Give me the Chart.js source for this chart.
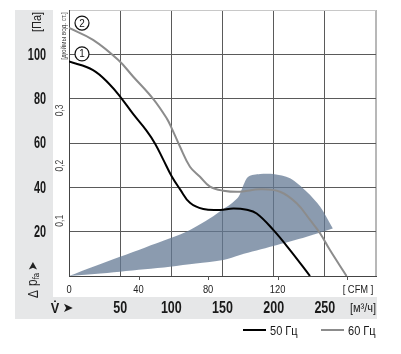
<!DOCTYPE html>
<html>
<head>
<meta charset="utf-8">
<script src="https://cdn.jsdelivr.net/npm/chart.js@4.4.1/dist/chart.umd.min.js"></script>
<style>
  html, body { margin: 0; padding: 0; background: #fff; }
  #wrap { width: 401px; height: 354px; position: relative; }
</style>
</head>
<body>
<div id="wrap"><canvas id="c" width="401" height="354"></canvas></div>
<script>
// ---- data ----
const flowTicks = [50, 100, 150, 200, 250];          // m³/h labels
const paTicks = [20, 40, 60, 80, 100];               // Pa labels
const cfmTicks = [0, 40, 80, 120];                   // CFM labels
const inH2OTicks = [0.1, 0.2, 0.3];                  // inch water labels
const inH2OLabels = ['0,1', '0,2', '0,3'];
const CFM_TO_M3H = 1.699;
const INH2O_TO_PA = 249.09;

const curve50X = [0, 23.5, 40, 50.5, 62.8, 75.9, 84, 92.1, 100.3, 108.4, 118.2, 131.2, 147.6, 160.6, 173.7, 183.4, 199.6, 216, 235.5];
const curve50Y = [96.8, 92.9, 86.3, 80.6, 73.0, 65.5, 59.8, 52.5, 45.0, 39.2, 33, 30.2, 29.8, 30.5, 29.9, 28.2, 20.8, 11.7, 0];

const curve60X = [0, 23.5, 48.2, 62.8, 82.4, 95.5, 100.4, 108.5, 118.2, 128, 137.8, 150.8, 167.1, 186.7, 206.2, 222.5, 235.5, 245.3, 255, 271.2];
const curve60Y = [111.9, 106.5, 97.4, 89.9, 79.8, 71.1, 66.6, 58.3, 49.3, 44.8, 40.3, 38.5, 38, 39.1, 38, 32.8, 25.3, 19.3, 11.7, 0];

// operating range polygon: upper edge then lower edge back
const rangeX = [0, 24.9, 49.8, 74, 98.7, 118.2, 137.8, 150.8, 160, 166, 170, 175.2, 186.7, 199.6, 216, 232.3, 245.3, 257.7, 257.7, 232.3, 199.6, 167.1, 150.8, 124, 98.7, 74, 49.8, 24.9, 0];
const rangeY = [0, 4.4, 8.7, 12.8, 17.0, 20.8, 26.0, 30.2, 33.2, 36.0, 40.5, 44.8, 46.0, 46.0, 44.1, 38.0, 31.3, 21.5, 21.4, 17.7, 13.5, 9.5, 7.2, 5.6, 4.2, 3.0, 1.9, 0.9, 0];

const legendLabels = ['50 Гц', '60 Гц'];
const curveLabels = ['1', '2'];
const curveLabelPos = [[12.7, 100.2], [12.7, 114.1]];

const zip = (xs, ys) => xs.map((x, i) => ({x, y: ys[i]}));

const FONT = "'Liberation Sans', Arial, sans-serif";
function txt(ctx, s, x, y, o) {
  ctx.save();
  ctx.translate(x, y);
  if (o.rot) ctx.rotate(o.rot);
  ctx.scale(o.sx || 1, 1);
  ctx.font = (o.weight || 'normal') + ' ' + o.size + 'px ' + (o.font || FONT);
  ctx.fillStyle = o.color || '#222';
  ctx.textAlign = o.align || 'center';
  ctx.textBaseline = o.base || 'middle';
  ctx.fillText(s, 0, 0);
  ctx.restore();
}

const decor = {
  id: 'decor',
  beforeDraw(chart) {
    const ctx = chart.ctx;
    ctx.save();
    ctx.fillStyle = '#ffffff';
    ctx.fillRect(0, 0, chart.width, chart.height);
    ctx.fillStyle = '#e6e7e8';
    ctx.fillRect(15, 10, 38, 309);
    ctx.fillRect(15, 297, 362, 22);
    ctx.restore();
  },
  afterDraw(chart) {
    const ctx = chart.ctx;
    const xs = chart.scales.x, ys = chart.scales.y;
    // Pa labels
    paTicks.forEach(v => txt(ctx, String(v), 46, ys.getPixelForValue(v) + 1, {size: 16, weight: 'bold', sx: 0.68, align: 'right', color: '#1a1a1a'}));
    txt(ctx, '[Па]', 37, 22, {size: 13, sx: 0.84, rot: -Math.PI / 2, color: '#222'});
    // Δ p_fa ➤ (rotated)
    ctx.save();
    ctx.translate(34, 298);
    ctx.rotate(-Math.PI / 2);
    ctx.fillStyle = '#222';
    ctx.textBaseline = 'middle';
    ctx.textAlign = 'left';
    ctx.scale(0.85, 1);
    ctx.font = '14px ' + FONT;
    ctx.fillText('Δ', 0, 0);
    ctx.fillText('p', 14, -1);
    ctx.font = '9px ' + FONT;
    ctx.fillText('fa', 22, 3);
    ctx.font = '13px "DejaVu Sans"';
    ctx.fillText('➤', 32, 0);
    ctx.restore();
    // inch water column labels
    inH2OTicks.forEach((v, i) => txt(ctx, inH2OLabels[i], 60, ys.getPixelForValue(v * INH2O_TO_PA), {size: 10, sx: 0.85, rot: -Math.PI / 2, color: '#444'}));
    txt(ctx, '[дюймы вод. ст.]', 63.5, 36, {size: 8, sx: 0.8, rot: -Math.PI / 2, color: '#444'});
    // CFM axis ticks + labels
    ctx.save();
    ctx.strokeStyle = '#555';
    ctx.lineWidth = 1;
    [40, 80, 120, 160].forEach(v => {
      const px = Math.round(xs.getPixelForValue(v * CFM_TO_M3H)) + 0.5;
      ctx.beginPath(); ctx.moveTo(px, 276); ctx.lineTo(px, 280); ctx.stroke();
    });
    ctx.restore();
    cfmTicks.forEach(v => txt(ctx, String(v), xs.getPixelForValue(v * CFM_TO_M3H), 290, {size: 11, sx: 0.85, color: '#222'}));
    txt(ctx, '[ CFM ]', 358, 290, {size: 11, sx: 0.85, color: '#222'});
    // m³/h labels
    flowTicks.forEach(v => txt(ctx, String(v), xs.getPixelForValue(v), 309, {size: 16, weight: 'bold', sx: 0.78, color: '#1a1a1a'}));
    txt(ctx, '[м³/ч]', 363, 308, {size: 13, sx: 0.85, color: '#222'});
    txt(ctx, 'V̇', 55, 309, {size: 15, weight: 'bold', sx: 0.85, color: '#1a1a1a'});
    txt(ctx, '➤', 68, 309, {size: 13, font: '"DejaVu Sans"', color: '#1a1a1a'});
    // curve number circles
    curveLabelPos.forEach((p, i) => {
      const cx = xs.getPixelForValue(p[0]), cy = ys.getPixelForValue(p[1]);
      ctx.save();
      ctx.beginPath(); ctx.arc(cx, cy, 7, 0, Math.PI * 2);
      ctx.fillStyle = '#fff'; ctx.fill();
      ctx.strokeStyle = '#111'; ctx.lineWidth = 1.2; ctx.stroke();
      ctx.restore();
      txt(ctx, curveLabels[i], cx, cy + 0.5, {size: 11, sx: 0.9, color: '#111'});
    });
    // legend
    const legendColors = ['#000000', '#8c8c8c'];
    const legendX = [243, 321];
    legendLabels.forEach((l, i) => {
      ctx.save();
      ctx.strokeStyle = legendColors[i]; ctx.lineWidth = 2;
      ctx.beginPath(); ctx.moveTo(legendX[i], 330); ctx.lineTo(legendX[i] + 23, 330); ctx.stroke();
      ctx.restore();
      txt(ctx, l, legendX[i] + 27, 331, {size: 13, sx: 0.85, align: 'left', color: '#1a1a1a'});
    });
  }
};

new Chart(document.getElementById('c'), {
  type: 'scatter',
  data: {
    datasets: [
      { label: legendLabels[0], data: zip(curve50X, curve50Y), showLine: true, borderColor: '#000', borderWidth: 2, pointRadius: 0, tension: 0.4, fill: false },
      { label: legendLabels[1], data: zip(curve60X, curve60Y), showLine: true, borderColor: '#8c8c8c', borderWidth: 2, pointRadius: 0, tension: 0.4, fill: false },
      { label: 'range', data: zip(rangeX, rangeY), showLine: true, borderWidth: 0, borderColor: 'rgba(0,0,0,0)', backgroundColor: 'rgba(100,121,148,0.75)', pointRadius: 0, tension: 0.3, fill: 'shape' }
    ]
  },
  options: {
    responsive: false,
    animation: false,
    devicePixelRatio: 1,
    layout: { padding: { left: 69, right: 25, top: 10, bottom: 78 } },
    plugins: { legend: { display: false }, tooltip: { enabled: false } },
    scales: {
      x: {
        type: 'linear', min: 0, max: 300,
        ticks: { display: false, stepSize: 50 },
        grid: {
          drawTicks: false,
          color: c => c.tick.value === 300 ? '#b8b8b8' : '#5a5a5a',
          lineWidth: c => c.tick.value === 300 ? 2 : 1
        },
        border: { color: '#444', width: 1 },
        afterFit: s => { s.height = 0; }
      },
      y: {
        type: 'linear', min: 0, max: 120,
        ticks: { display: false, stepSize: 20 },
        grid: {
          drawTicks: false,
          color: c => c.tick.value === 120 ? '#c8c8c8' : '#5a5a5a',
          lineWidth: 1
        },
        border: { color: '#444', width: 1 },
        afterFit: s => { s.width = 0; }
      }
    }
  },
  plugins: [decor]
});
</script>
</body>
</html>
